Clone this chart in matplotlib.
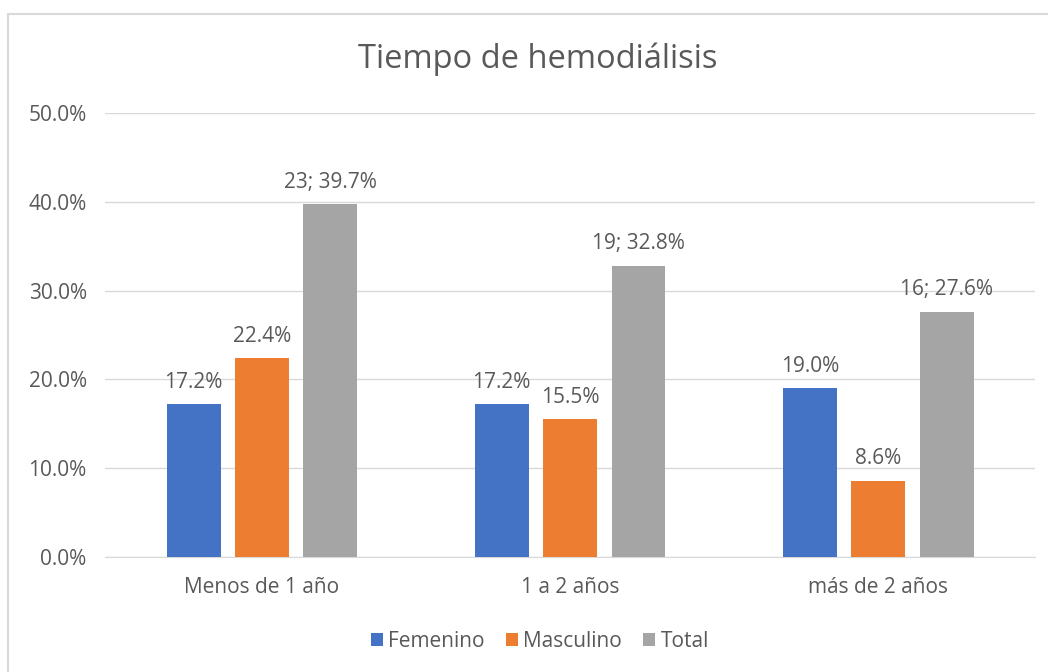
import matplotlib
matplotlib.use('Agg')
import matplotlib.pyplot as plt
import numpy as np
from matplotlib.patches import Rectangle

plt.rcParams['font.family'] = ['Open Sans', 'DejaVu Sans']

categorias = ['Menos de 1 año', '1 a 2 años', 'más de 2 años']
femenino = [17.2, 17.2, 19.0]
masculino = [22.4, 15.5, 8.6]
total = [39.7, 32.8, 27.6]
total_n = [23, 19, 16]

series = ['Femenino', 'Masculino', 'Total']
colores = ['#4472C4', '#ED7D31', '#A5A5A5']
texto = '#595959'

fig = plt.figure(figsize=(10.48, 6.72), dpi=100)
ax = fig.add_axes([0.100, 0.171, 0.888, 0.661])

# borde del grafico (cortado a la derecha y abajo)
fig.patches.append(Rectangle((0.0076, -0.02), 1.05, 0.999, transform=fig.transFigure,
                             fill=False, edgecolor='#D9D9D9', linewidth=1.5))

x = np.arange(len(categorias))
w = 0.175
paso = 0.222
for i, (nombre, vals, c) in enumerate(zip(series, [femenino, masculino, total], colores)):
    pos = x + (i - 1) * paso
    ax.bar(pos, vals, width=w, color=c, label=nombre, zorder=3)
    for j, v in enumerate(vals):
        if nombre == 'Total':
            lab = '{}; {:.1f}%'.format(total_n[j], v)
        else:
            lab = '{:.1f}%'.format(v)
        ax.text(pos[j], v + 1.3, lab, ha='center', va='bottom', fontsize=15, color=texto)

ax.set_ylim(0, 50)
ax.set_xlim(-0.51, 2.51)
ax.set_yticks(np.arange(0, 51, 10))
ax.set_yticklabels(['{:.1f}%'.format(t) for t in np.arange(0, 51, 10)], fontsize=15, color=texto)
ax.set_xticks(x)
ax.set_xticklabels(categorias, fontsize=15, color=texto)
ax.tick_params(axis='y', length=0, pad=13)
ax.tick_params(axis='x', length=0, pad=14)
ax.grid(axis='y', color='#D9D9D9', linewidth=1, zorder=0)
for s in ['top', 'right', 'left']:
    ax.spines[s].set_visible(False)
ax.spines['bottom'].set_color('#D9D9D9')

fig.text(0.513, 0.912, 'Tiempo de hemodiálisis', ha='center', va='center', fontsize=23.5, color=texto)

fig.legend(loc='center', bbox_to_anchor=(0.515, 0.046), ncol=3, frameon=False,
           fontsize=15, handlelength=0.6, handleheight=0.6, handletextpad=0.25,
           columnspacing=1.0, labelcolor=texto)

fig.savefig('out.png', dpi=100)
